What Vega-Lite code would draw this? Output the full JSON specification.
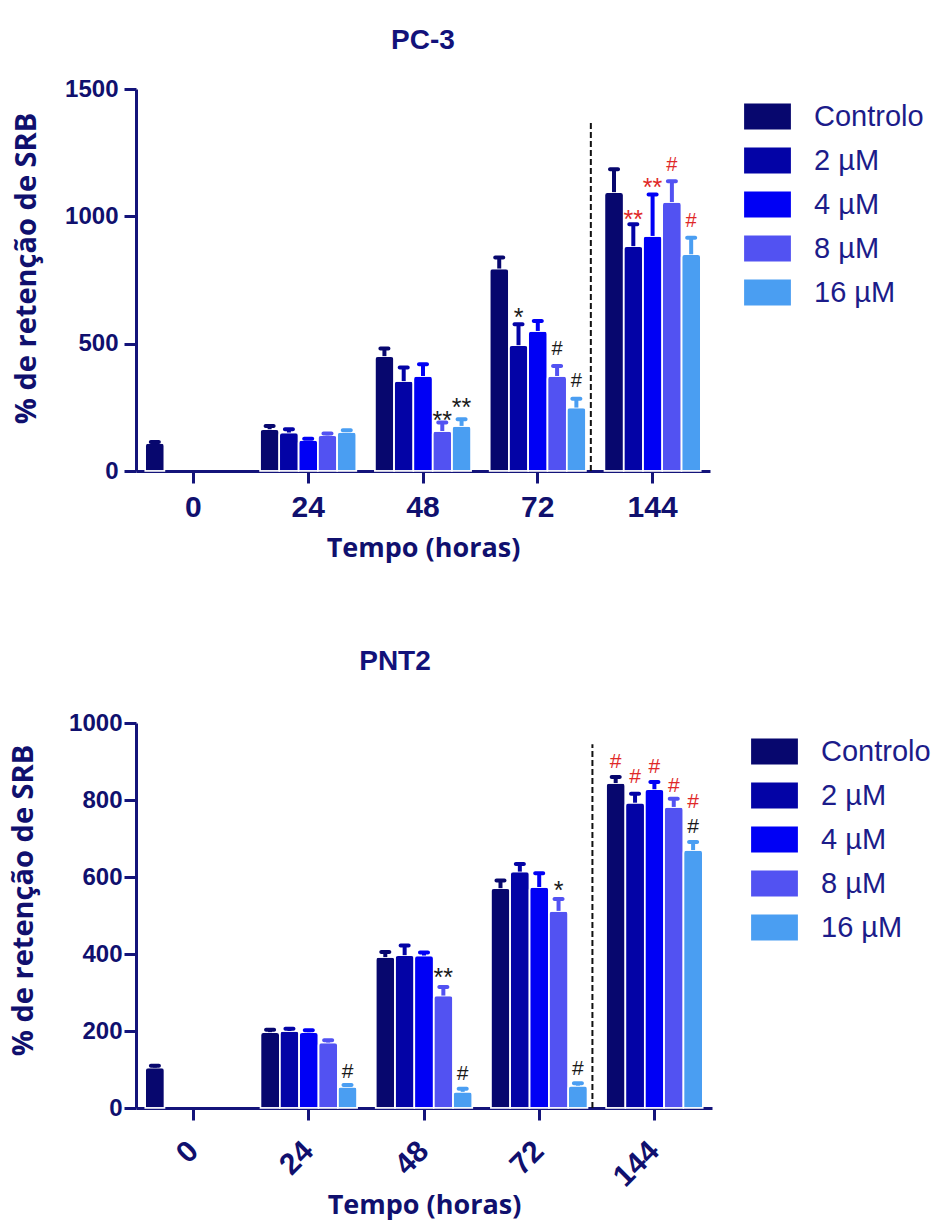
{
  "$schema": "https://vega.github.io/schema/vega-lite/v6.json",
  "background": "white",
  "padding": {"left": 9, "top": 27, "right": 0, "bottom": 4},
  "spacing": 87,
  "columns": 1,
  "align": "none",
  "resolve": {"scale": {"color": "independent", "x": "independent", "y": "independent", "xOffset": "independent", "fill": "independent"}, "legend": {"color": "independent"}},
  "datasets": {
    "pc3": [
      {"tempo": "0", "grupo": "Controlo", "valor": 110, "sup": 114},
      {"tempo": "24", "grupo": "Controlo", "valor": 164, "sup": 177},
      {"tempo": "24", "grupo": "2 µM", "valor": 151, "sup": 164},
      {"tempo": "24", "grupo": "4 µM", "valor": 122, "sup": 127},
      {"tempo": "24", "grupo": "8 µM", "valor": 140, "sup": 147},
      {"tempo": "24", "grupo": "16 µM", "valor": 153, "sup": 160},
      {"tempo": "48", "grupo": "Controlo", "valor": 451, "sup": 481},
      {"tempo": "48", "grupo": "2 µM", "valor": 353, "sup": 406},
      {"tempo": "48", "grupo": "4 µM", "valor": 373, "sup": 419},
      {"tempo": "48", "grupo": "8 µM", "valor": 157, "sup": 190},
      {"tempo": "48", "grupo": "16 µM", "valor": 177, "sup": 203},
      {"tempo": "72", "grupo": "Controlo", "valor": 795, "sup": 838},
      {"tempo": "72", "grupo": "2 µM", "valor": 494, "sup": 576},
      {"tempo": "72", "grupo": "4 µM", "valor": 550, "sup": 589},
      {"tempo": "72", "grupo": "8 µM", "valor": 373, "sup": 412},
      {"tempo": "72", "grupo": "16 µM", "valor": 249, "sup": 284},
      {"tempo": "144", "grupo": "Controlo", "valor": 1095, "sup": 1185},
      {"tempo": "144", "grupo": "2 µM", "valor": 883, "sup": 969},
      {"tempo": "144", "grupo": "4 µM", "valor": 923, "sup": 1086},
      {"tempo": "144", "grupo": "8 µM", "valor": 1056, "sup": 1138},
      {"tempo": "144", "grupo": "16 µM", "valor": 851, "sup": 916}
    ],
    "pc3_sig": [
      {"tempo": "48", "grupo": "8 µM", "sinal": "**", "ref": "a", "pos": 224},
      {"tempo": "48", "grupo": "16 µM", "sinal": "**", "ref": "a", "pos": 276},
      {"tempo": "72", "grupo": "2 µM", "sinal": "*", "ref": "a", "pos": 629},
      {"tempo": "72", "grupo": "8 µM", "sinal": "#", "ref": "a", "pos": 479},
      {"tempo": "72", "grupo": "16 µM", "sinal": "#", "ref": "a", "pos": 355},
      {"tempo": "144", "grupo": "2 µM", "sinal": "**", "ref": "b", "pos": 1012},
      {"tempo": "144", "grupo": "4 µM", "sinal": "**", "ref": "b", "pos": 1140},
      {"tempo": "144", "grupo": "8 µM", "sinal": "#", "ref": "b", "pos": 1201},
      {"tempo": "144", "grupo": "16 µM", "sinal": "#", "ref": "b", "pos": 983}
    ],
    "pnt2": [
      {"tempo": "0", "grupo": "Controlo", "valor": 105, "sup": 110},
      {"tempo": "24", "grupo": "Controlo", "valor": 197, "sup": 203},
      {"tempo": "24", "grupo": "2 µM", "valor": 200, "sup": 206},
      {"tempo": "24", "grupo": "4 µM", "valor": 197, "sup": 202},
      {"tempo": "24", "grupo": "8 µM", "valor": 170, "sup": 176},
      {"tempo": "24", "grupo": "16 µM", "valor": 55, "sup": 60},
      {"tempo": "48", "grupo": "Controlo", "valor": 392, "sup": 405},
      {"tempo": "48", "grupo": "2 µM", "valor": 397, "sup": 422},
      {"tempo": "48", "grupo": "4 µM", "valor": 396, "sup": 404},
      {"tempo": "48", "grupo": "8 µM", "valor": 292, "sup": 314},
      {"tempo": "48", "grupo": "16 µM", "valor": 42, "sup": 50},
      {"tempo": "72", "grupo": "Controlo", "valor": 571, "sup": 591},
      {"tempo": "72", "grupo": "2 µM", "valor": 614, "sup": 634},
      {"tempo": "72", "grupo": "4 µM", "valor": 574, "sup": 610},
      {"tempo": "72", "grupo": "8 µM", "valor": 512, "sup": 543},
      {"tempo": "72", "grupo": "16 µM", "valor": 58, "sup": 64},
      {"tempo": "144", "grupo": "Controlo", "valor": 844, "sup": 860},
      {"tempo": "144", "grupo": "2 µM", "valor": 793, "sup": 816},
      {"tempo": "144", "grupo": "4 µM", "valor": 828, "sup": 847},
      {"tempo": "144", "grupo": "8 µM", "valor": 782, "sup": 803},
      {"tempo": "144", "grupo": "16 µM", "valor": 670, "sup": 691}
    ],
    "pnt2_sig": [
      {"tempo": "24", "grupo": "16 µM", "sinal": "#", "ref": "a", "pos": 93},
      {"tempo": "48", "grupo": "8 µM", "sinal": "**", "ref": "a", "pos": 357},
      {"tempo": "48", "grupo": "16 µM", "sinal": "#", "ref": "a", "pos": 89},
      {"tempo": "72", "grupo": "8 µM", "sinal": "*", "ref": "a", "pos": 583},
      {"tempo": "72", "grupo": "16 µM", "sinal": "#", "ref": "a", "pos": 102},
      {"tempo": "144", "grupo": "Controlo", "sinal": "#", "ref": "b", "pos": 899},
      {"tempo": "144", "grupo": "2 µM", "sinal": "#", "ref": "b", "pos": 860},
      {"tempo": "144", "grupo": "4 µM", "sinal": "#", "ref": "b", "pos": 886},
      {"tempo": "144", "grupo": "8 µM", "sinal": "#", "ref": "b", "pos": 836},
      {"tempo": "144", "grupo": "16 µM", "sinal": "#", "ref": "b", "pos": 795},
      {"tempo": "144", "grupo": "16 µM", "sinal": "#", "ref": "a", "pos": 730}
    ]
  },
  "config": {
    "view": {"stroke": null},
    "axis": {
      "grid": false,
      "domainColor": "#14147a", "domainWidth": 3,
      "tickColor": "#14147a", "tickWidth": 3, "tickSize": 12,
      "labelColor": "#10106e", "labelFont": "Liberation Sans", "labelFontWeight": "bold",
      "titleColor": "#10106e", "titleFont": "Open Sans", "titleFontWeight": "bold", "titleFontSize": 27
    },
    "legend": {
      "orient": "none", "title": null, "padding": 0,
      "symbolType": "M-1.8,-1H1.8V1H-1.8Z", "symbolSize": 676, "symbolStrokeWidth": 0, "symbolOpacity": 1,
      "labelFont": "Liberation Sans", "labelFontSize": 29, "labelColor": "#1c1c8a",
      "labelOffset": 32, "rowPadding": 14
    },
    "title": {"font": "Liberation Sans", "fontSize": 28, "fontWeight": "bold", "color": "#12127a", "anchor": "middle", "frame": "group"}
  },
  "concat": [
    {
      "width": 574, "height": 382,
      "title": {"text": "PC-3", "offset": 22},
      "encoding": {
        "x": {"field": "tempo", "type": "ordinal", "title": "Tempo (horas)",
          "scale": {"domain": ["0", "24", "48", "72", "144"], "paddingInner": 0.16, "paddingOuter": 0.08},
          "axis": {"labelAngle": 0, "labelFontSize": 30, "labelPadding": 9, "titlePadding": 13}},
        "xOffset": {"field": "grupo", "type": "nominal",
          "scale": {"domain": ["Controlo", "2 µM", "4 µM", "8 µM", "16 µM"], "paddingInner": 0, "paddingOuter": 0}}
      },
      "layer": [
        {
          "data": {"name": "pc3"},
          "mark": {"type": "bar", "stroke": "white", "strokeWidth": 1.5, "cornerRadiusTopLeft": 3, "cornerRadiusTopRight": 3},
          "encoding": {
            "y": {"field": "valor", "type": "quantitative", "title": "% de retenção de SRB",
              "scale": {"domain": [0, 1500], "nice": false},
              "axis": {"values": [0, 500, 1000, 1500], "format": "d", "labelFontSize": 24, "labelPadding": 6, "titleFontSize": 29, "titlePadding": 23, "titleY": 179}},
            "color": {"field": "grupo", "type": "nominal",
              "scale": {"domain": ["Controlo", "2 µM", "4 µM", "8 µM", "16 µM"], "range": ["#07076e", "#0303a6", "#0000f5", "#5252f2", "#4a9ef2"]},
              "legend": {"legendX": 617, "legendY": 13}}
          }
        },
        {
          "data": {"name": "pc3"},
          "mark": {"type": "rule", "strokeWidth": 4},
          "encoding": {
            "y": {"field": "valor", "type": "quantitative", "scale": {"domain": [0, 1500], "nice": false}},
            "y2": {"field": "sup"},
            "color": {"field": "grupo", "type": "nominal"}
          }
        },
        {
          "data": {"name": "pc3"},
          "mark": {"type": "tick", "thickness": 4, "size": 12, "cornerRadius": 2, "opacity": 1},
          "encoding": {
            "y": {"field": "sup", "type": "quantitative", "scale": {"domain": [0, 1500], "nice": false}},
            "color": {"field": "grupo", "type": "nominal"}
          }
        },
        {
          "data": {"name": "pc3_sig"},
          "transform": [{"filter": "datum.sinal == '#'"}],
          "mark": {"type": "text", "font": "Liberation Sans", "fontSize": 20, "baseline": "middle"},
          "encoding": {
            "y": {"field": "pos", "type": "quantitative", "scale": {"domain": [0, 1500], "nice": false}},
            "text": {"field": "sinal"},
            "fill": {"field": "ref", "type": "nominal", "scale": {"domain": ["a", "b"], "range": ["#1a1a1a", "#e02828"]}, "legend": null}
          }
        },
        {
          "data": {"name": "pc3_sig"},
          "transform": [{"filter": "datum.sinal != '#'"}],
          "mark": {"type": "text", "font": "Liberation Sans", "fontSize": 25, "baseline": "middle", "dy": 7},
          "encoding": {
            "y": {"field": "pos", "type": "quantitative", "scale": {"domain": [0, 1500], "nice": false}},
            "text": {"field": "sinal"},
            "fill": {"field": "ref", "type": "nominal", "scale": {"domain": ["a", "b"], "range": ["#1a1a1a", "#e02828"]}, "legend": null}
          }
        },
        {
          "data": {"values": [{}]},
          "mark": {"type": "rule", "strokeDash": [6, 3], "strokeWidth": 2, "color": "#111111"},
          "encoding": {
            "x": {"datum": "72", "type": "ordinal", "bandPosition": 1.05},
            "xOffset": null,
            "y": {"datum": 0, "type": "quantitative"},
            "y2": {"datum": 1370}
          }
        }
      ]
    },
    {
      "width": 576, "height": 385,
      "title": {"text": "PNT2", "offset": 35, "dx": -29},
      "encoding": {
        "x": {"field": "tempo", "type": "ordinal", "title": "Tempo (horas)",
          "scale": {"domain": ["0", "24", "48", "72", "144"], "paddingInner": 0.16, "paddingOuter": 0.08},
          "axis": {"labelAngle": -45, "labelAlign": "right", "labelBaseline": "middle", "labelFontSize": 30, "labelPadding": 26, "labelDx": 16, "titlePadding": 1}},
        "xOffset": {"field": "grupo", "type": "nominal",
          "scale": {"domain": ["Controlo", "2 µM", "4 µM", "8 µM", "16 µM"], "paddingInner": 0, "paddingOuter": 0}}
      },
      "layer": [
        {
          "data": {"name": "pnt2"},
          "mark": {"type": "bar", "stroke": "white", "strokeWidth": 1.5, "cornerRadiusTopLeft": 3, "cornerRadiusTopRight": 3},
          "encoding": {
            "y": {"field": "valor", "type": "quantitative", "title": "% de retenção de SRB",
              "scale": {"domain": [0, 1000], "nice": false},
              "axis": {"values": [0, 200, 400, 600, 800, 1000], "format": "d", "labelFontSize": 24, "labelPadding": 2, "titleFontSize": 29, "titlePadding": 30, "titleY": 177}},
            "color": {"field": "grupo", "type": "nominal",
              "scale": {"domain": ["Controlo", "2 µM", "4 µM", "8 µM", "16 µM"], "range": ["#07076e", "#0303a6", "#0000f5", "#5252f2", "#4a9ef2"]},
              "legend": {"legendX": 624, "legendY": 14}}
          }
        },
        {
          "data": {"name": "pnt2"},
          "mark": {"type": "rule", "strokeWidth": 4},
          "encoding": {
            "y": {"field": "valor", "type": "quantitative", "scale": {"domain": [0, 1000], "nice": false}},
            "y2": {"field": "sup"},
            "color": {"field": "grupo", "type": "nominal"}
          }
        },
        {
          "data": {"name": "pnt2"},
          "mark": {"type": "tick", "thickness": 4, "size": 12, "cornerRadius": 2, "opacity": 1},
          "encoding": {
            "y": {"field": "sup", "type": "quantitative", "scale": {"domain": [0, 1000], "nice": false}},
            "color": {"field": "grupo", "type": "nominal"}
          }
        },
        {
          "data": {"name": "pnt2_sig"},
          "transform": [{"filter": "datum.sinal == '#'"}],
          "mark": {"type": "text", "font": "Liberation Sans", "fontSize": 21, "baseline": "middle"},
          "encoding": {
            "y": {"field": "pos", "type": "quantitative", "scale": {"domain": [0, 1000], "nice": false}},
            "text": {"field": "sinal"},
            "fill": {"field": "ref", "type": "nominal", "scale": {"domain": ["a", "b"], "range": ["#1a1a1a", "#e02828"]}, "legend": null}
          }
        },
        {
          "data": {"name": "pnt2_sig"},
          "transform": [{"filter": "datum.sinal != '#'"}],
          "mark": {"type": "text", "font": "Liberation Sans", "fontSize": 25, "baseline": "middle", "dy": 7},
          "encoding": {
            "y": {"field": "pos", "type": "quantitative", "scale": {"domain": [0, 1000], "nice": false}},
            "text": {"field": "sinal"},
            "fill": {"field": "ref", "type": "nominal", "scale": {"domain": ["a", "b"], "range": ["#1a1a1a", "#e02828"]}, "legend": null}
          }
        },
        {
          "data": {"values": [{}]},
          "mark": {"type": "rule", "strokeDash": [6, 3], "strokeWidth": 2, "color": "#111111"},
          "encoding": {
            "x": {"datum": "72", "type": "ordinal", "bandPosition": 1.05},
            "xOffset": null,
            "y": {"datum": 0, "type": "quantitative"},
            "y2": {"datum": 945}
          }
        }
      ]
    }
  ]
}
